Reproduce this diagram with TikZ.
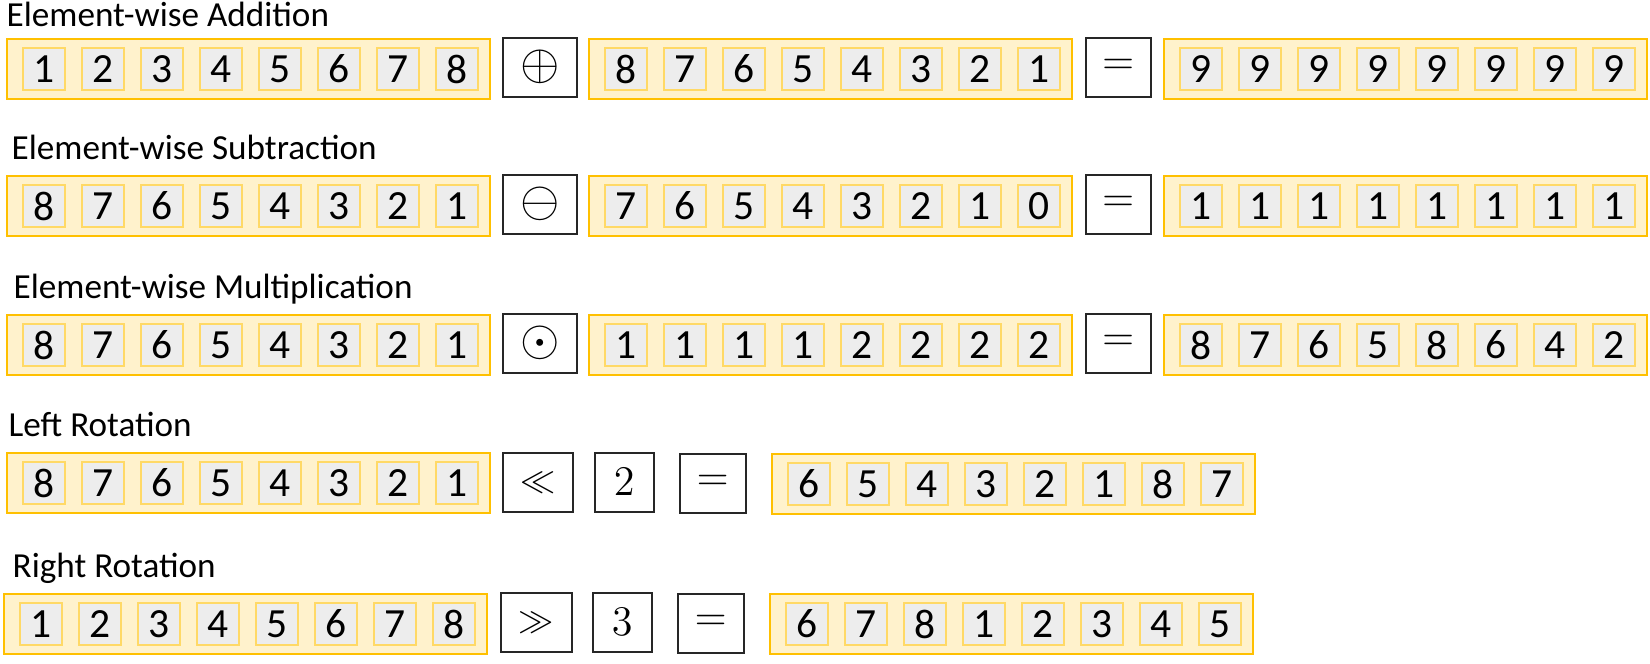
\documentclass[tikz,border=0pt]{standalone}
\usepackage{fontspec}
\setmainfont{Carlito}
\usepackage{xcolor}
\usepackage{tikz}
\usetikzlibrary{calc}

\definecolor{vecfill}{HTML}{FFF2CC}
\definecolor{vecline}{HTML}{FFC000}
\definecolor{cellfill}{HTML}{EDEDED}
\definecolor{cellline}{HTML}{FFD966}
\definecolor{opline}{HTML}{262626}

\tikzset{
  vecbox/.style={draw=vecline,fill=vecfill,line width=0.6pt,minimum width=4.83cm,
    minimum height=0.6cm,inner sep=0pt,anchor=north west},
  cellbox/.style={draw=cellline,fill=cellfill,line width=0.5pt,minimum width=0.42cm,
    minimum height=0.42cm,inner sep=0pt,font=\fontsize{11.8}{12}\selectfont},
  opbox/.style={draw=opline,line width=0.45pt,inner sep=0pt,anchor=north west,
    minimum height=0.59cm,font=\fontsize{12.5}{14}\selectfont},
  rowtitle/.style={anchor=base west,inner sep=0pt,font=\fontsize{10}{12}\selectfont}
}

\begin{document}
\begin{tikzpicture}[x=0.01cm,y=-0.01cm]
\useasboundingbox (0,0) rectangle (1650,663);

% row titles
\node[rowtitle] (addT) at (6,26) {Element-wise Addition};
\node[rowtitle] (subT) at (11,159) {Element-wise Subtraction};
\node[rowtitle] (mulT) at (13,298) {Element-wise Multiplication};
\node[rowtitle] (rotlT) at (8,436) {Left Rotation};
\node[rowtitle] (rotrT) at (12,577) {Right Rotation};

% vectors with their eight cells
\foreach \nm/\xx/\yy/\vals in {
    addA/6/38/{1,2,3,4,5,6,7,8}, addB/588/38/{8,7,6,5,4,3,2,1}, addC/1163/38/{9,9,9,9,9,9,9,9},
    subA/6/175/{8,7,6,5,4,3,2,1}, subB/588/175/{7,6,5,4,3,2,1,0}, subC/1163/175/{1,1,1,1,1,1,1,1},
    mulA/6/314/{8,7,6,5,4,3,2,1}, mulB/588/314/{1,1,1,1,2,2,2,2}, mulC/1163/314/{8,7,6,5,8,6,4,2},
    rotlA/6/452/{8,7,6,5,4,3,2,1}, rotlC/771/453/{6,5,4,3,2,1,8,7},
    rotrA/3/593/{1,2,3,4,5,6,7,8}, rotrC/769/593/{6,7,8,1,2,3,4,5}} {
  \node[vecbox] (\nm) at (\xx,\yy) {};
  \foreach \v [count=\i] in \vals
    \node[cellbox] (\nm-\i) at ($(\nm.west)+(59*\i-21,0)$) {\v};
}

% operator boxes
\foreach \nm/\xx/\yy/\ww/\sym in {
    addOp/502/37/0.74/{\Large$\oplus$}, addEq/1085/37/0.65/$=$,
    subOp/502/174/0.74/{\Large$\ominus$}, subEq/1085/174/0.65/$=$,
    mulOp/502/313/0.74/{\Large$\odot$}, mulEq/1085/313/0.65/$=$,
    rotlOp/502/452/0.70/{\normalsize$\ll$}, rotlN/594/452/0.59/$2$, rotlEq/679/453/0.66/$=$,
    rotrOp/500/592/0.71/{\normalsize$\gg$}, rotrN/592/592/0.59/$3$, rotrEq/677/593/0.66/$=$} {
  \node[opbox,minimum width=\ww cm] (\nm) at (\xx,\yy) {\sym};
}
\end{tikzpicture}
\end{document}
